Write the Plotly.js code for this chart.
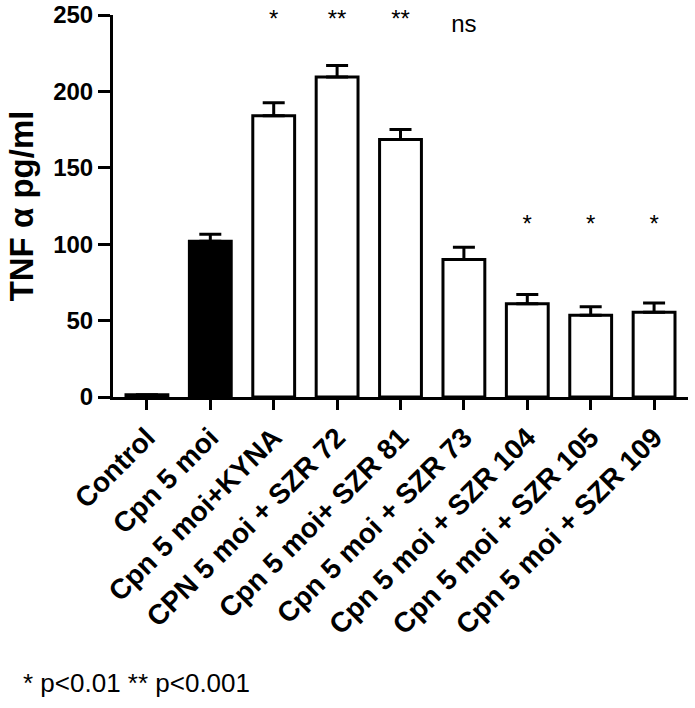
<!DOCTYPE html>
<html>
<head>
<meta charset="utf-8">
<script src="https://cdn.plot.ly/plotly-3.0.1.min.js"></script>
<style>
  html, body { margin: 0; padding: 0; background: #fff; }
  #chart { width: 695px; height: 708px; }
</style>
</head>
<body>
<div id="chart"></div>
<script>
'use strict'

var groups = ['Control', 'Cpn 5 moi', 'Cpn 5 moi+KYNA', 'CPN 5 moi + SZR 72',
    'Cpn 5 moi+ SZR 81', 'Cpn 5 moi + SZR 73', 'Cpn 5 moi + SZR 104',
    'Cpn 5 moi + SZR 105', 'Cpn 5 moi + SZR 109'];
var means = [1.5, 102, 184, 209.5, 168.5, 90, 61, 53.5, 55.5];
var sem = [0, 4.5, 8.5, 7.5, 6.5, 8, 6, 5.5, 6];
var zeros = [0, 0, 0, 0, 0, 0, 0, 0, 0];
var fills = ['#ffffff', '#000000', '#ffffff', '#ffffff', '#ffffff', '#ffffff', '#ffffff', '#ffffff', '#ffffff'];

// significance marks above the bars
var sigText = ['', '', '*', '**', '**', 'ns', '*', '*', '*'];
var sigY = [null, null, 246, 246, 246, 243, 112, 112, 112];

var yTicks = [0, 50, 100, 150, 200, 250];

var FONT = '"Liberation Sans", Arial, sans-serif';

var bars = {
    type: 'bar',
    x: groups,
    y: means,
    width: 0.66,
    marker: { color: fills, line: { color: '#000', width: 3 } },
    error_y: {
        type: 'data',
        symmetric: false,
        array: sem,
        arrayminus: zeros,
        color: '#000',
        thickness: 3,
        width: 11
    },
    hoverinfo: 'none'
};

var marks = {
    type: 'scatter',
    mode: 'text',
    x: groups,
    y: sigY,
    text: sigText,
    textfont: { family: FONT, size: 24, color: '#000' },
    cliponaxis: false,
    hoverinfo: 'none'
};

var layout = {
    width: 695,
    height: 708,
    margin: { l: 113, r: 7, t: 15, b: 311, pad: 0 },
    paper_bgcolor: '#fff',
    plot_bgcolor: '#fff',
    showlegend: false,
    font: { family: FONT, color: '#000' },
    xaxis: {
        type: 'category',
        range: [-0.535, 8.535],
        showline: true,
        linecolor: '#000',
        linewidth: 3,
        ticks: 'outside',
        ticklen: 10,
        tickwidth: 3,
        tickcolor: '#000',
        tickangle: -45,
        tickfont: { family: FONT, size: 28, color: '#000', weight: 'bold' },
        showgrid: false,
        zeroline: false,
        fixedrange: true
    },
    yaxis: {
        range: [0, 250],
        tickvals: yTicks,
        showline: true,
        linecolor: '#000',
        linewidth: 3,
        ticks: 'outside',
        ticklen: 12,
        tickwidth: 3,
        tickcolor: '#000',
        tickfont: { family: FONT, size: 24, color: '#000', weight: 'bold' },
        showgrid: false,
        zeroline: false,
        title: {
            text: 'TNF α pg/ml',
            font: { family: FONT, size: 33, color: '#000', weight: 'bold' },
            standoff: 10
        },
        fixedrange: true
    },
    annotations: [{
        xref: 'paper', yref: 'paper',
        x: -0.16, y: -0.749,
        xanchor: 'left', yanchor: 'middle',
        text: '* p<0.01 ** p<0.001',
        showarrow: false,
        font: { family: FONT, size: 26, color: '#000' }
    }]
};

Plotly.newPlot('chart', [bars, marks], layout, { displayModeBar: false, staticPlot: true });
</script>
</body>
</html>
